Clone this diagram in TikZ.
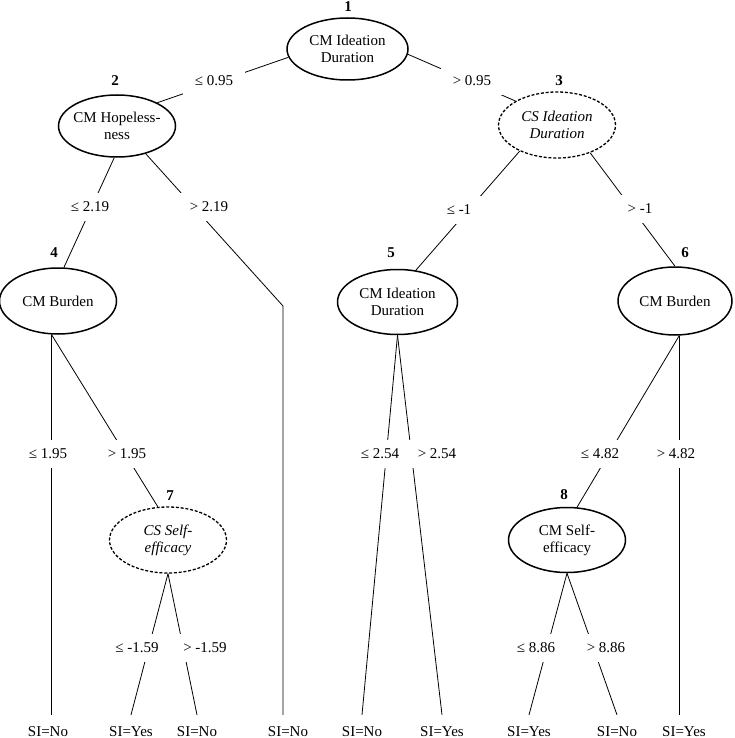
\documentclass[tikz,border=0pt]{standalone}
\usepackage{fontspec}
\setmainfont{Liberation Serif}
\usetikzlibrary{shapes.geometric}
\begin{document}
\begin{tikzpicture}[x=1pt,y=-1pt,
  every node/.style={font=\fontsize{15}{17}\selectfont},
  tnode/.style={ellipse, draw, line width=1.5pt, align=center, inner xsep=-4pt, inner ysep=0pt, minimum width=117pt, minimum height=64pt},
  cnode/.style={tnode, line width=1.3pt, dash pattern=on 3pt off 1.8pt, font=\fontsize{15}{17}\selectfont\itshape},
  num/.style={font=\fontsize{15}{17}\selectfont\bfseries, inner sep=0pt},
  lab/.style={fill=white, inner xsep=12pt, inner ysep=9pt},
  leaf/.style={inner sep=0pt, anchor=base},
  edge/.style={line width=0.8pt}
]
\useasboundingbox (0,0) rectangle (734,738);

% decision nodes
\node[tnode, minimum width=121pt, minimum height=62pt] (n1) at (347.5,49) {CM Ideation\\Duration};
\node[tnode, minimum height=62pt] (n2) at (117,126) {CM Hopeless-\\ness};
\node[cnode, minimum height=66pt] (n3) at (557,125) {CS Ideation\\Duration};
\node[tnode, minimum height=66pt] (n4) at (58,301) {CM Burden};
\node[tnode, minimum width=120pt, minimum height=65pt] (n5) at (397.5,302) {CM Ideation\\Duration};
\node[tnode, minimum width=114pt, minimum height=68pt] (n6) at (675,301) {CM Burden};
\node[cnode, minimum height=66pt] (n7) at (168,540) {CS Self-\\efficacy};
\node[tnode, minimum height=65pt] (n8) at (567,540) {CM Self-\\efficacy};

% node numbers
\node[num] (k1) at (348,7) {1};
\node[num] (k2) at (115,81) {2};
\node[num] (k3) at (559,81) {3};
\node[num] (k4) at (54,253) {4};
\node[num] (k5) at (391,253) {5};
\node[num] (k6) at (685,253) {6};
\node[num] (k7) at (170,496) {7};
\node[num] (k8) at (564,495) {8};

% leaves
\node[leaf] (l1) at (48,736) {SI=No};
\node[leaf] (l2) at (131,736) {SI=Yes};
\node[leaf] (l3) at (197,736) {SI=No};
\node[leaf] (l4) at (288,736) {SI=No};
\node[leaf] (l5) at (362,736) {SI=No};
\node[leaf] (l6) at (442,736) {SI=Yes};
\node[leaf] (l7) at (529,736) {SI=Yes};
\node[leaf] (l8) at (617,736) {SI=No};
\node[leaf] (l9) at (684,736) {SI=Yes};

% line ends just above the leaves
\coordinate (t1) at ([yshift=11pt]l1.north);
\coordinate (t2) at ([yshift=11pt]l2.north);
\coordinate (t3) at ([yshift=11pt]l3.north);
\coordinate (t4) at ([yshift=11pt]l4.north);
\coordinate (t5) at ([yshift=11pt]l5.north);
\coordinate (t6) at ([yshift=11pt]l6.north);
\coordinate (t7) at ([yshift=11pt]l7.north);
\coordinate (t8) at ([yshift=11pt]l8.north);
\coordinate (t9) at ([yshift=11pt]l9.north);
\coordinate (b2) at (283,306);

% connectors
\draw[edge] (n1.188) -- (n2.30);
\draw[edge] (n1.355) -- (n3.150);
\draw[edge] (n2.265) -- (n4.80);
\draw[edge] (n2.-44) -- (b2) -- (b2 |- t4);
\draw[edge] (n3.215) -- (n5.60);
\draw[edge] (n3.-40) -- (n6.north);
\draw[edge] (n4.259) -- (n4.259 |- t1);
\draw[edge] (n4.259) -- (n7.107);
\draw[edge] (n5.south) -- (t5);
\draw[edge] (n5.south) -- (t6);
\draw[edge] (n6.-83) -- (n8.73);
\draw[edge] (n6.-83) -- (n6.-83 |- t9);
\draw[edge] (n7.south) -- (t2);
\draw[edge] (n7.south) -- (t3);
\draw[edge] (n8.south) -- (t7);
\draw[edge] (n8.south) -- (t8);

% split labels
\node[lab] (e1) at (214,81) {≤ 0.95};
\node[lab] (e2) at (472,81) {> 0.95};
\node[lab] (e3) at (90,207) {≤ 2.19};
\node[lab] (e4) at (209,207) {> 2.19};
\node[lab] (e5) at (459,210) {≤ -1};
\node[lab] (e6) at (640,209) {> -1};
\node[lab] (e7) at (48,454) {≤ 1.95};
\node[lab] (e8) at (127,454) {> 1.95};
\node[lab] (e9) at (380,454) {≤ 2.54};
\node[lab] (e10) at (437,454) {> 2.54};
\node[lab] (e11) at (600,454) {≤ 4.82};
\node[lab] (e12) at (676,454) {> 4.82};
\node[lab] (e13) at (137,648) {≤ -1.59};
\node[lab] (e14) at (205,648) {> -1.59};
\node[lab] (e15) at (536,648) {≤ 8.86};
\node[lab] (e16) at (606,648) {> 8.86};
\end{tikzpicture}
\end{document}
